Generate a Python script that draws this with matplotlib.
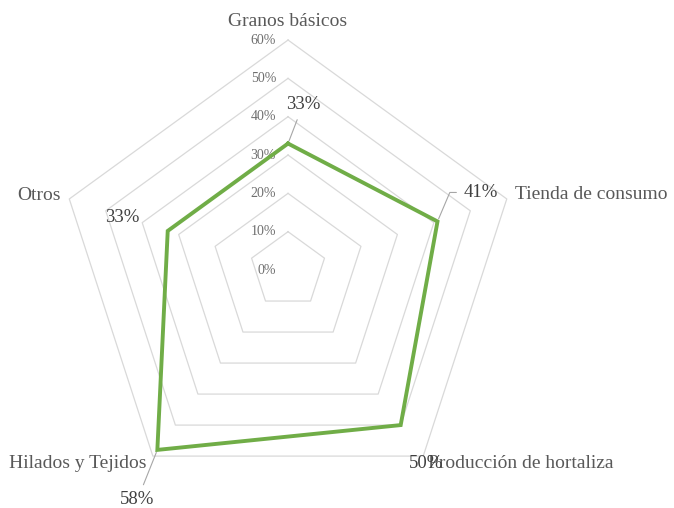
import numpy as np
import matplotlib.pyplot as plt

plt.rcParams['font.family'] = ['Liberation Serif', 'DejaVu Serif']

categories = ['Granos básicos', 'Tienda de consumo', 'Producción de hortaliza',
              'Hilados y Tejidos', 'Otros']
values = [0.33, 0.41, 0.50, 0.58, 0.33]
ticks = [0, 0.1, 0.2, 0.3, 0.4, 0.5, 0.6]
tick_labels = ['0%', '10%', '20%', '30%', '40%', '50%', '60%']

text_col = '#595959'
grid_col = '#d9d9d9'
green = '#70ad47'

n = len(categories)
angles = np.arange(n) * 2 * np.pi / n
closed_a = np.append(angles, angles[0])

fig = plt.figure(figsize=(6.74, 5.08), dpi=100)
ax = fig.add_axes([0.0861, 0.0157, 0.6825, 0.9055], projection='polar')
ax.set_theta_offset(np.pi / 2)
ax.set_theta_direction(-1)
ax.set_ylim(0, 0.6)
ax.grid(False)
ax.set_xticks([])
ax.set_yticks([])
ax.spines['polar'].set_visible(False)
ax.patch.set_alpha(0)

# pentagon grid
for r in ticks[1:]:
    ax.plot(closed_a, [r] * (n + 1), color=grid_col, lw=0.9, clip_on=False, zorder=1)

# tick labels
for r, lab in zip(ticks, tick_labels):
    ax.annotate(lab, xy=(0, r), xytext=(-12, 0), textcoords='offset pixels',
                ha='right', va='center', fontsize=10, color='#6f6f6f')

# series
ax.plot(closed_a, np.append(values, values[0]), color=green, lw=2.8,
        solid_joinstyle='miter', zorder=3, clip_on=False)

# category labels
cat_off = [(0, 19, 'center', 'center'), (8, 4, 'left', 'center'),
           (5, -7, 'left', 'center'), (-6, -7, 'right', 'center'),
           (-9, 3, 'right', 'center')]
for a, lab, (dx, dy, ha, va) in zip(angles, categories, cat_off):
    ax.annotate(lab, xy=(a, 0.6), xytext=(dx, dy), textcoords='offset pixels',
                ha=ha, va=va, fontsize=14, color=text_col)

# data labels
lab_off = [(15, 39, True), (43, 29, True), (25, -38, False),
           (-20, -50, True), (-45, 13, False)]
for a, v, (dx, dy, leader) in zip(angles, values, lab_off):
    txt = '{:.0f}%'.format(v * 100)
    if leader:
        if dx == 43:
            cs = 'angle,angleA=0,angleB=67'
        else:
            cs = 'arc3'
        ax.annotate(txt, xy=(a, v), xytext=(dx, dy), textcoords='offset pixels',
                    ha='center', va='center', fontsize=13.5, color='#404040',
                    arrowprops=dict(arrowstyle='-', color='#a6a6a6', lw=0.8,
                                    shrinkA=3, shrinkB=2, connectionstyle=cs))
    else:
        ax.annotate(txt, xy=(a, v), xytext=(dx, dy), textcoords='offset pixels',
                    ha='center', va='center', fontsize=13.5, color='#404040')

fig.savefig('out.png', dpi=100)
